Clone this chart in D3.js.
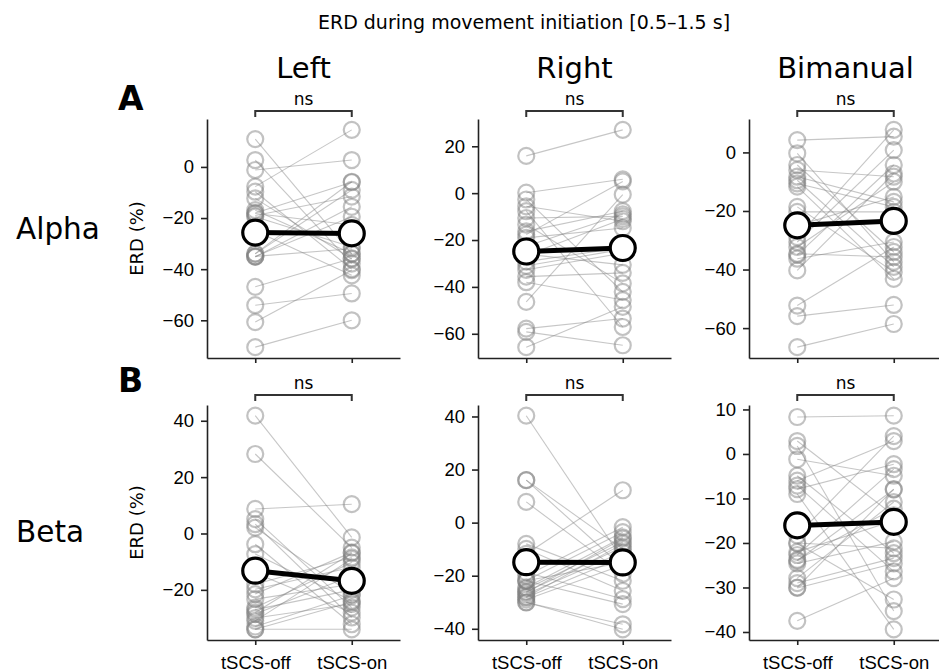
<!DOCTYPE html>
<html>
<head>
<meta charset="utf-8">
<script src="https://cdn.jsdelivr.net/npm/d3@7"></script>
<style>
  body { margin: 0; background: #fff; }
  svg { display: block; font-family: "DejaVu Sans", sans-serif; }
</style>
</head>
<body>
<svg id="chart"></svg>
<script>
// categories
const conditions = ['tSCS-off', 'tSCS-on'];
const hands = ['Left', 'Right', 'Bimanual'];
const bands = ['Alpha', 'Beta'];

// ERD (%) per subject, pairs aligned by index
const alphaLeftOff  = [10.9, 2.7, -1.2, -7.7, -9.7, -12.3, -16.9, -18.2, -19.5, -18, -19, -25, -26, -33.9, -34, -35.2, -35, -35, -46.9, -54.1, -60.7, -70.5];
const alphaLeftOn   = [-34, -37.8, 2.7, 14.5, -40, -36, -33.9, -22.7, -31.3, -6, -11.6, -42.4, -26, -5.8, -9.0, -15.6, -19.5, -32, -35.8, -49.5, -40.4, -60];
const alphaRightOff = [15.9, 0.2, -2.7, -5.6, -7.7, -10.6, -13.4, -16.3, -17.7, -19.1, -22.7, -26, -26.5, -29.2, -31, -32.7, -35.6, -38, -46.4, -57.8, -59.2, -65.7];
const alphaRightOn  = [27.0, 5.9, -42.1, -12.0, -57.1, -9.9, -38.5, -7.7, 5, -14.9, -9, -30.6, -11, -23.2, -24, -25.6, -34, -45.6, -0.6, -53.5, -64.9, -48.5];
const alphaBimOff   = [4.2, -0.3, -4.3, -6.0, -8.3, -9.5, -10.6, -11.7, -18.6, -20.3, -25, -25, -28.9, -30.6, -32.3, -34.6, -35, -36.3, -40.3, -52.3, -55.9, -66.5];
const alphaBimOn    = [5.4, -37.4, -34.0, -8.3, -16.9, -39.1, -18.6, -43.2, -40.8, -20.3, -24, -15.2, 7.7, 0.8, -10, -35.7, -4.3, -30.6, -7.2, -32.3, -52.1, -58.6];
const betaLeftOff   = [41.8, 28.2, 8.7, 5.1, 3.3, 2.1, -3.8, -7.3, -14, -18.0, -19.8, -21.5, -23.3, -26.3, -27, -28, -28.6, -30, -31.0, -33, -34, -34.0];
const betaLeftOn    = [-1.4, -5.0, 10.4, -26.3, -29.8, -21.5, -32.2, -23.9, -28.1, -8.5, -12, -6.7, -18, -10.3, -20, -7, -15, -25, -9, -22, -24.3, -34.0];
const betaRightOff  = [40.3, 16, 16, 7.8, -8.0, -9.9, -11.8, -18.7, -20, -21.8, -21.9, -22, -24.4, -25, -26, -26.3, -27, -28, -28.2, -29, -30, -30.1];
const betaRightOn   = [-14, -16.8, -10, -19.3, -21.9, -25.7, 12.2, -28.8, -1.7, -3.6, -15, -30.7, -5.5, -7.4, -9.2, -6, -11.1, -8, -13, -16, -40.2, -38.3];
const betaBimOff    = [8.3, 2.9, 1.8, -1.2, -4.9, -6.0, -7.1, -7.9, -9.0, -20, -22, -18.3, -20.1, -22.7, -23.8, -24, -24.6, -27.9, -29.0, -30, -30.1, -37.5];
const betaBimOn     = [8.6, -13.8, -35.3, -4.9, -22.3, 2.9, -26.4, -2.3, -39.4, -21.2, -15, 4.0, -32.7, -3.4, -12.3, -8, -19.7, -10.8, -23.4, -7.9, -24.6, -27.9];

// y tick values
const alphaLeftTicks  = [-60, -40, -20, 0];
const alphaRightTicks = [-60, -40, -20, 0, 20];
const alphaBimTicks   = [-60, -40, -20, 0];
const betaLeftTicks   = [-20, 0, 20, 40];
const betaRightTicks  = [-40, -20, 0, 20, 40];
const betaBimTicks    = [-40, -30, -20, -10, 0, 10];

const panels = [
  [alphaLeftOff, alphaLeftOn, alphaLeftTicks],
  [alphaRightOff, alphaRightOn, alphaRightTicks],
  [alphaBimOff, alphaBimOn, alphaBimTicks],
  [betaLeftOff, betaLeftOn, betaLeftTicks],
  [betaRightOff, betaRightOn, betaRightTicks],
  [betaBimOff, betaBimOn, betaBimTicks]
];

let width = 939;
let height = 672;
let colX = [207, 478, 749];
let panelW = 193;
let rowTop = [119, 405];
let rowBottom = [358, 640];
let ink = '#222';

let svg = d3.select('#chart')
  .attr('width', width)
  .attr('height', height);

// titles
svg.append('text')
  .attr('x', 524).attr('y', 29)
  .attr('text-anchor', 'middle')
  .style('font-size', '19px')
  .text('ERD during movement initiation [0.5\u20131.5 s]');

hands.forEach((h, c) => {
  svg.append('text')
    .attr('x', colX[c] + panelW / 2).attr('y', 78)
    .attr('text-anchor', 'middle')
    .style('font-size', '29px')
    .text(h);
});

bands.forEach((b, r) => {
  svg.append('text')
    .attr('x', 16).attr('y', r === 0 ? 239 : 542)
    .style('font-size', '29.5px')
    .text(b);
  svg.append('text')
    .attr('x', 118).attr('y', r === 0 ? 110 : 392)
    .style('font-size', '33px')
    .style('font-weight', 'bold')
    .text(r === 0 ? 'A' : 'B');
});

let drawPanel = (p, i) => {
  let r = Math.floor(i / 3);
  let c = i % 3;
  let off = p[0], on = p[1], ticks = p[2];
  let top = rowTop[r], bottom = rowBottom[r];

  let xScale = d3.scalePoint()
    .domain(conditions)
    .range([colX[c], colX[c] + panelW])
    .padding(0.5);

  let lo = d3.min(off.concat(on));
  let hi = d3.max(off.concat(on));
  let pad = (hi - lo) * 0.05;
  let yScale = d3.scaleLinear()
    .domain([lo - pad, hi + pad])
    .range([bottom, top]);

  let g = svg.append('g');

  // axes
  let xAxis = d3.axisBottom(xScale).tickSize(5).tickSizeOuter(0).tickPadding(11);
  if (r === 0) xAxis.tickFormat('');
  let gx = g.append('g')
    .attr('transform', 'translate(0,' + bottom + ')')
    .call(xAxis);
  gx.selectAll('text').style('font-size', '18.5px').attr('fill', '#000');

  let yAxis = d3.axisLeft(yScale).tickValues(ticks).tickSize(6).tickSizeOuter(0).tickPadding(7);
  let gy = g.append('g')
    .attr('transform', 'translate(' + colX[c] + ',0)')
    .call(yAxis);
  gy.selectAll('text').style('font-size', '18.5px').attr('fill', '#000');

  g.selectAll('.domain, .tick line').attr('stroke', ink).attr('stroke-width', 1.6);

  if (c === 0) {
    g.append('text')
      .attr('transform', 'translate(143,' + ((top + bottom) / 2) + ') rotate(-90)')
      .attr('text-anchor', 'middle')
      .style('font-size', '18px')
      .text('ERD (%)');
  }

  // subject lines
  let pairs = off.map((v, k) => [v, on[k]]);
  g.selectAll('.pair')
    .data(pairs)
    .enter()
    .append('line')
      .attr('x1', xScale(conditions[0]))
      .attr('x2', xScale(conditions[1]))
      .attr('y1', (d) => yScale(d[0]))
      .attr('y2', (d) => yScale(d[1]))
      .attr('stroke', '#808080')
      .attr('stroke-opacity', 0.45)
      .attr('stroke-width', 1.1);

  // subject circles
  [off, on].forEach((vals, k) => {
    g.selectAll('.pt' + k)
      .data(vals)
      .enter()
      .append('circle')
        .attr('cx', xScale(conditions[k]))
        .attr('cy', (d) => yScale(d))
        .attr('r', 8)
        .attr('fill', 'none')
        .attr('stroke', '#808080')
        .attr('stroke-opacity', 0.48)
        .attr('stroke-width', 2.2);
  });

  // means
  let means = [d3.mean(off), d3.mean(on)];
  g.append('line')
    .attr('x1', xScale(conditions[0]))
    .attr('x2', xScale(conditions[1]))
    .attr('y1', yScale(means[0]))
    .attr('y2', yScale(means[1]))
    .attr('stroke', '#000')
    .attr('stroke-width', 5);
  g.selectAll('.mean')
    .data(means)
    .enter()
    .append('circle')
      .attr('cx', (d, k) => xScale(conditions[k]))
      .attr('cy', (d) => yScale(d))
      .attr('r', 12.5)
      .attr('fill', '#fff')
      .attr('stroke', '#000')
      .attr('stroke-width', 3.2);

  // significance bracket
  let by = r === 0 ? 111 : 395;
  let bx0 = xScale(conditions[0]), bx1 = xScale(conditions[1]);
  g.append('path')
    .attr('d', 'M' + bx0 + ',' + (by + 6) + 'V' + by + 'H' + bx1 + 'V' + (by + 6))
    .attr('fill', 'none')
    .attr('stroke', '#333')
    .attr('stroke-width', 2);
  g.append('text')
    .attr('x', (bx0 + bx1) / 2).attr('y', by - 6)
    .attr('text-anchor', 'middle')
    .style('font-size', '17px')
    .text('ns');
};

panels.forEach(drawPanel);
</script>
</body>
</html>
